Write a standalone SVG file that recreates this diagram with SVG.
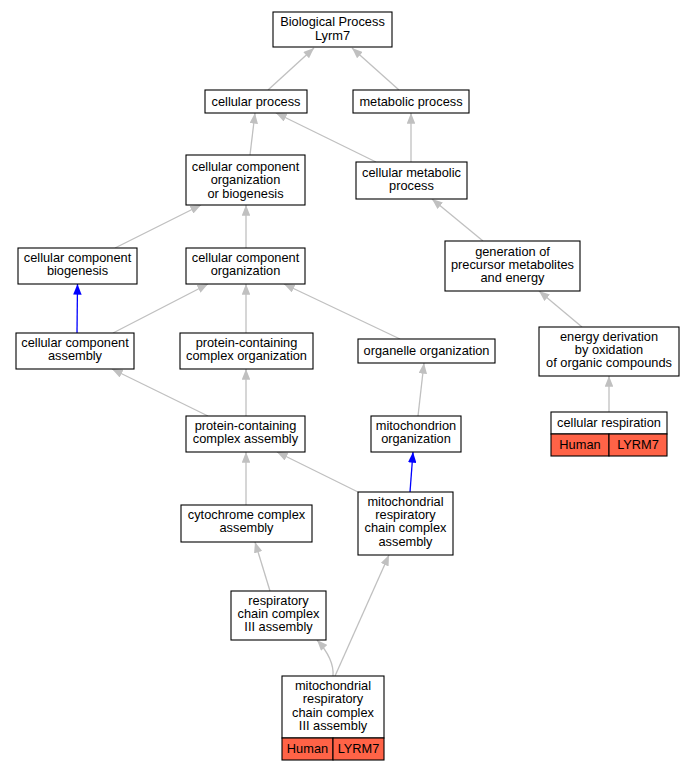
<svg xmlns="http://www.w3.org/2000/svg" width="695" height="771" viewBox="0 0 695 771">
<style>
text{font-family:"Liberation Sans",Arial,sans-serif;font-size:12.8px;fill:#000;text-anchor:middle}
.n{fill:#fff;stroke:#000;stroke-width:1.1}
.h{fill:#ff6347;stroke:#000;stroke-width:1.1}
.e{fill:none;stroke:#c0c0c0;stroke-width:1.3;marker-end:url(#ag)}
.b{fill:none;stroke:#0000ff;stroke-width:1.3;marker-end:url(#ab)}
</style>
<defs>
<marker id="ag" viewBox="0 0 10 8" refX="10" refY="4" markerWidth="11" markerHeight="8.5" markerUnits="userSpaceOnUse" orient="auto"><path d="M0,0L10,4L0,8z" fill="#c0c0c0"/></marker>
<marker id="ab" viewBox="0 0 10 8" refX="10" refY="4" markerWidth="11" markerHeight="8.5" markerUnits="userSpaceOnUse" orient="auto"><path d="M0,0L10,4L0,8z" fill="#0000ff"/></marker>
</defs>
<rect width="695" height="771" fill="#fff"/>
<g id="edges">
<path class="e" d="M268,90L314,48"/>
<path class="e" d="M399,90L352,48"/>
<path class="e" d="M250,155L255,113"/>
<path class="e" d="M376,162L276,113"/>
<path class="e" d="M411,162L411,113"/>
<path class="e" d="M483,241L432,199"/>
<path class="e" d="M582,327L539,291"/>
<path class="e" d="M609,412L609,376"/>
<path class="e" d="M115,248L201,205"/>
<path class="e" d="M246,248L246,205"/>
<path class="b" d="M77,333L77.5,284"/>
<path class="e" d="M113,333L208,284"/>
<path class="e" d="M246,333L246,284"/>
<path class="e" d="M400,339L284,284"/>
<path class="e" d="M418,416L424,363"/>
<path class="e" d="M208,416L112,369"/>
<path class="e" d="M246,416L246,369"/>
<path class="b" d="M410,492L413,452"/>
<path class="e" d="M246,505L246,452"/>
<path class="e" d="M358,492L277,452"/>
<path class="e" d="M270,591L255,542"/>
<path class="e" d="M333,676C334,664 327,651 317,640"/>
<path class="e" d="M335,676L389,555"/>
</g>
<g id="n_bp"><rect class="n" x="273" y="12" width="119" height="35"/><text x="332.5" y="26">Biological Process</text><text x="332.5" y="40">Lyrm7</text></g>
<g id="n_cp"><rect class="n" x="205" y="90" width="102" height="23"/><text x="256" y="106">cellular process</text></g>
<g id="n_mp"><rect class="n" x="353" y="90" width="116" height="23"/><text x="411" y="106">metabolic process</text></g>
<g id="n_ccoob"><rect class="n" x="186" y="155" width="119" height="50"/><text x="245.5" y="171">cellular component</text><text x="245.5" y="184">organization</text><text x="245.5" y="198">or biogenesis</text></g>
<g id="n_cmp"><rect class="n" x="356" y="162" width="111" height="37"/><text x="411.5" y="177">cellular metabolic</text><text x="411.5" y="190">process</text></g>
<g id="n_ccb"><rect class="n" x="18" y="248" width="119" height="36"/><text x="77.5" y="262">cellular component</text><text x="77.5" y="275">biogenesis</text></g>
<g id="n_cco"><rect class="n" x="186" y="248" width="119" height="36"/><text x="245.5" y="262">cellular component</text><text x="245.5" y="275">organization</text></g>
<g id="n_gen"><rect class="n" x="445" y="241" width="135" height="50"/><text x="512.5" y="256">generation of</text><text x="512.5" y="269">precursor metabolites</text><text x="512.5" y="282">and energy</text></g>
<g id="n_cca"><rect class="n" x="16" y="333" width="118" height="36"/><text x="75" y="347">cellular component</text><text x="75" y="360">assembly</text></g>
<g id="n_pcco"><rect class="n" x="180" y="333" width="133" height="36"/><text x="246.5" y="347">protein-containing</text><text x="246.5" y="360">complex organization</text></g>
<g id="n_oo"><rect class="n" x="358" y="339" width="137" height="24"/><text x="426.5" y="355">organelle organization</text></g>
<g id="n_ed"><rect class="n" x="539" y="327" width="140" height="49"/><text x="609" y="341">energy derivation</text><text x="609" y="354">by oxidation</text><text x="609" y="367">of organic compounds</text></g>
<g id="n_cr"><rect class="n" x="551" y="412" width="116" height="22"/><text x="609" y="427">cellular respiration</text><rect class="h" x="551" y="434" width="58" height="22"/><text x="580" y="449">Human</text><rect class="h" x="609" y="434" width="58" height="22"/><text x="638" y="449">LYRM7</text></g>
<g id="n_pcca"><rect class="n" x="186" y="416" width="119" height="36"/><text x="245.5" y="430">protein-containing</text><text x="245.5" y="443">complex assembly</text></g>
<g id="n_mo"><rect class="n" x="371" y="416" width="90" height="36"/><text x="416" y="430">mitochondrion</text><text x="416" y="443">organization</text></g>
<g id="n_cyt"><rect class="n" x="181" y="505" width="131" height="37"/><text x="246.5" y="519">cytochrome complex</text><text x="246.5" y="532">assembly</text></g>
<g id="n_mrcca"><rect class="n" x="358" y="492" width="95" height="63"/><text x="405.5" y="506">mitochondrial</text><text x="405.5" y="519">respiratory</text><text x="405.5" y="532">chain complex</text><text x="405.5" y="546">assembly</text></g>
<g id="n_rcc3"><rect class="n" x="231" y="591" width="95" height="49"/><text x="278.5" y="605">respiratory</text><text x="278.5" y="618">chain complex</text><text x="278.5" y="631">III assembly</text></g>
<g id="n_mrcc3"><rect class="n" x="282" y="676" width="102" height="62"/><text x="333" y="690">mitochondrial</text><text x="333" y="703">respiratory</text><text x="333" y="717">chain complex</text><text x="333" y="730">III assembly</text><rect class="h" x="282" y="738" width="51" height="22"/><text x="307.5" y="753">Human</text><rect class="h" x="333" y="738" width="51" height="22"/><text x="358.5" y="753">LYRM7</text></g>
</svg>
